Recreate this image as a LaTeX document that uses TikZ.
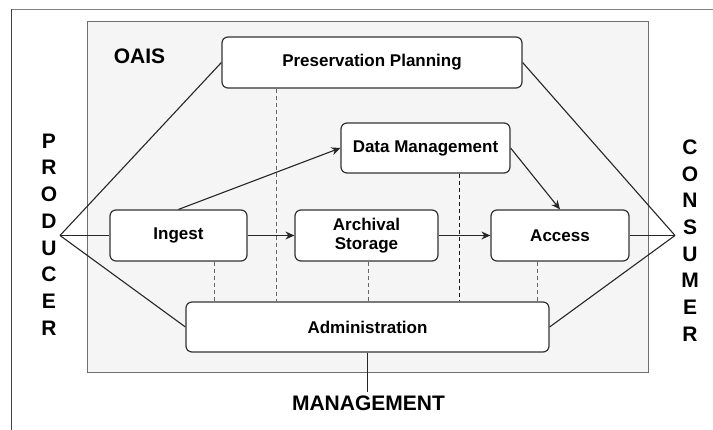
\documentclass[tikz,border=0pt]{standalone}
\usepackage{fontspec}
\setmainfont{Liberation Sans}
\usetikzlibrary{arrows.meta,calc}
\definecolor{panel}{HTML}{F5F5F5}
\definecolor{panelline}{HTML}{6E6E6E}
\definecolor{boxline}{HTML}{333333}
\begin{document}
\begin{tikzpicture}[x=1pt,y=-1pt,
  blk/.style={draw=boxline, line width=1.2pt, fill=white, rounded corners=6pt,
    inner sep=0pt, font=\fontsize{17}{19.5}\selectfont\bfseries, align=center},
  link/.style={draw=black!85, line width=1.1pt},
  flow/.style={link, -{Stealth[length=9pt,width=8pt]}},
  dsh/.style={draw=black!60, line width=1pt, dash pattern=on 4pt off 3pt},
  big/.style={font=\fontsize{21}{26.7}\selectfont\bfseries, inner sep=0pt, align=center}]
\useasboundingbox (0,0) rectangle (713,430);

% outer frame edges
\draw[black!50, line width=1.8pt] (11.5,9.5) -- (713,9.5);
\draw[black!75, line width=1.3pt] (11.5,9.5) -- (11.5,430);

% OAIS panel
\filldraw[fill=panel, draw=panelline, line width=1pt] (87,22) rectangle (648,373);
\node[big] (oais) at (139.5,56) {OAIS};

% functional entities
\node[blk, minimum width=300pt, minimum height=51pt] (pp)  at (372,62.5)    {Preservation Planning};
\node[blk, minimum width=169pt, minimum height=50pt] (dm)  at (425.5,148)   {Data Management};
\node[blk, minimum width=137pt, minimum height=51pt] (ing) at (178.5,235.5) {Ingest};
\node[blk, minimum width=143pt, minimum height=51pt] (arc) at (366.5,235.5) {Archival\\Storage};
\node[blk, minimum width=138pt, minimum height=51pt] (acc) at (560,235.5)   {Access};
\node[blk, minimum width=363pt, minimum height=50pt] (adm) at (367.5,327)   {Administration};

% external actors
\node[big] (producer) at (49,234.5)  {P\\R\\O\\D\\U\\C\\E\\R};
\node[big] (consumer) at (690,240.5) {C\\O\\N\\S\\U\\M\\E\\R};
\node[big] (mgmt)     at (368.5,403.5) {MANAGEMENT};
\coordinate (prod) at (60,235.5);
\coordinate (cons) at (675,235.5);

% actor links
\draw[link] (prod) -- (pp.west);
\draw[link] (prod) -- (ing.west);
\draw[link] (prod) -- (adm.west);
\draw[link] (cons) -- (pp.east);
\draw[link] (cons) -- (acc.east);
\draw[link] (cons) -- (adm.east);
\draw[link, shorten >=4pt] (adm.south) -- (adm.south |- mgmt.north);

% information flows
\draw[flow] (ing.north) -- (dm.west);
\draw[flow] (ing.east) -- (arc.west);
\draw[flow] (arc.east) -- (acc.west);
\draw[flow] (dm.east) -- (acc.north);

% administrative links
\draw[dsh] ([xshift=-96pt]pp.south) coordinate (d1) -- (d1 |- adm.north);
\draw[dsh] ([xshift=35.5pt]ing.south) coordinate (d2) -- (d2 |- adm.north);
\draw[dsh] ([xshift=1.5pt]arc.south) coordinate (d3) -- (d3 |- adm.north);
\draw[dsh, draw=black!90] ([xshift=33.5pt]dm.south) coordinate (d4) -- (d4 |- adm.north);
\draw[dsh] ([xshift=-23pt]acc.south) coordinate (d5) -- (d5 |- adm.north);
\end{tikzpicture}
\end{document}
